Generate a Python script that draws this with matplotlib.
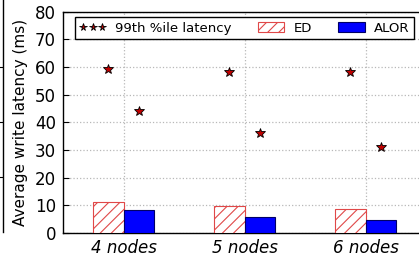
import numpy as np
import matplotlib
matplotlib.use('Agg')
import matplotlib.pyplot as plt

plt.rcParams['hatch.linewidth'] = 0.8

groups = ['4 nodes', '5 nodes', '6 nodes']
ed_avg = [11.3, 9.8, 8.6]
alor_avg = [8.2, 5.9, 4.7]
p99_ed = [59.3, 58.3, 58.3]
p99_alor = [44.2, 36.2, 31.2]
yticks = [0, 10, 20, 30, 40, 50, 60, 70, 80]

W, H = 419, 257


def px(left, top, right, bottom):
    # pixel box -> figure fraction
    return [left / W, 1 - bottom / H, (right - left) / W, (bottom - top) / H]


fig = plt.figure(figsize=(W / 100, H / 100), dpi=100)

# edge of the neighbouring panel, cut off on the left
ax0 = fig.add_axes(px(-200, -2, 3, 232))
ax0.set_ylim(0, 234 / 55)
ax0.set_xlim(0, 1)
ax0.set_yticks([1, 2, 3])
ax0.set_xticks([])
for s in ['left', 'top', 'bottom']:
    ax0.spines[s].set_visible(False)
ax0.spines['right'].set_linewidth(1.0)
ax0.yaxis.tick_right()
ax0.tick_params(axis='y', direction='in', length=4, labelright=False)
ax0.patch.set_alpha(0)

ax = fig.add_axes(px(63, 11.7, 426, 233))
x = np.arange(len(groups))
w = 0.25

ax.bar(x - w / 2, ed_avg, w, facecolor='white', edgecolor='#e04848',
       hatch='///', linewidth=0.8, label='ED', zorder=3)
ax.bar(x + w / 2, alor_avg, w, facecolor='#0000ff', edgecolor='#000066',
       linewidth=0.8, label='ALOR', zorder=3)
ax.plot(x - w / 2, p99_ed, linestyle='none', marker='*', markersize=7,
        markerfacecolor='#c00000', markeredgecolor='black', markeredgewidth=0.6,
        label='99th %ile latency', zorder=4)
ax.plot(x + w / 2, p99_alor, linestyle='none', marker='*', markersize=7,
        markerfacecolor='#c00000', markeredgecolor='black', markeredgewidth=0.6,
        zorder=4)

ax.set_xlim(-0.5, 2.5)
ax.set_ylim(0, 80)
ax.set_yticks(yticks)
ax.set_xticks(x)
ax.set_xticklabels(groups, fontsize=12, style='italic')
ax.tick_params(axis='y', labelsize=12, direction='in', length=4, pad=5)
ax.tick_params(axis='x', direction='in', length=4, pad=4)
ax.set_ylabel('Average write latency (ms)', fontsize=11, labelpad=5)
ax.grid(True, linestyle=':', color='#b8b8b8', linewidth=0.9, zorder=0)
ax.set_axisbelow(True)
for s in ax.spines.values():
    s.set_linewidth(1.0)

handles, labels = ax.get_legend_handles_labels()
star = [h for h, l in zip(handles, labels) if l.startswith('99')][0]
ed = [h for h, l in zip(handles, labels) if l == 'ED'][0]
alor = [h for h, l in zip(handles, labels) if l == 'ALOR'][0]
ax.legend([star, ed, alor], ['99th %ile latency', 'ED', 'ALOR'],
          loc='upper center', ncol=3, numpoints=3, markerscale=0.8,
          fontsize=9.5, fancybox=False, edgecolor='black', framealpha=1,
          borderaxespad=0.4, columnspacing=2.0, handlelength=2.0,
          handletextpad=0.7, borderpad=0.35)

fig.savefig('out.png', dpi=100)
